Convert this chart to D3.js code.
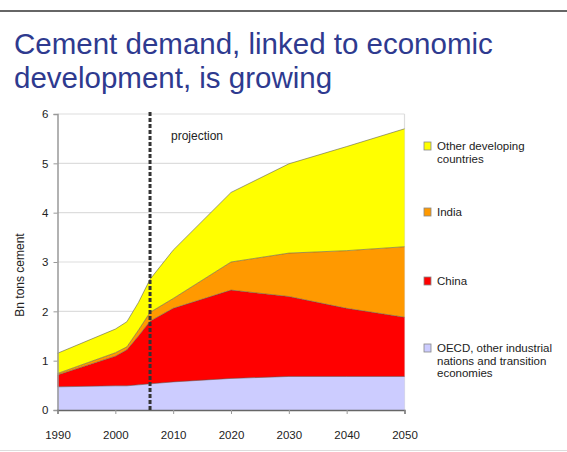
<!DOCTYPE html>
<html>
<head>
<meta charset="utf-8">
<script src="https://cdn.jsdelivr.net/npm/d3@7"></script>
<style>
  body { margin: 0; background: #fff; }
  svg { display: block; font-family: "Liberation Sans", Arial, sans-serif; }
</style>
</head>
<body>
<div id="chart"></div>
<script>
// values (Bn tons cement, per region)
const years = [1990, 2000, 2002, 2004, 2006, 2010, 2020, 2030, 2040, 2050];
const oecd  = [0.47, 0.49, 0.49, 0.51, 0.53, 0.57, 0.64, 0.68, 0.68, 0.68];
const china = [0.24, 0.60, 0.73, 0.99, 1.27, 1.49, 1.79, 1.62, 1.38, 1.20];
const india = [0.03, 0.07, 0.06, 0.12, 0.18, 0.20, 0.57, 0.88, 1.17, 1.43];
const other = [0.41, 0.48, 0.51, 0.56, 0.67, 0.98, 1.41, 1.81, 2.11, 2.39];

const seriesKeys = ['oecd', 'china', 'india', 'other'];
const seriesColors = ['#ccccff', '#ff0000', '#ff9900', '#ffff00'];
const legendLabels = [
    ['OECD, other industrial', 'nations and transition', 'economies'],
    ['China'],
    ['India'],
    ['Other developing', 'countries']
];
const xTicks = [1990, 2000, 2010, 2020, 2030, 2040, 2050];
const yTicks = [0, 1, 2, 3, 4, 5, 6];
const projectionYear = 2006;

const width = 567, height = 452;
const svg = d3.select('#chart').append('svg')
    .attr('width', width)
    .attr('height', height);

// frame lines of the slide
svg.append('line').attr('x1', 0).attr('x2', width).attr('y1', 11).attr('y2', 11)
    .style('stroke', '#333').style('stroke-width', 1.5);
svg.append('line').attr('x1', 0).attr('x2', width).attr('y1', 450.5).attr('y2', 450.5)
    .style('stroke', '#ddd').style('stroke-width', 1);

// title
const title = svg.append('text')
    .style('fill', '#2e3a8f')
    .style('font-size', '29.5px');
title.append('tspan').attr('x', 14).attr('y', 54).text('Cement demand, linked to economic');
title.append('tspan').attr('x', 14).attr('y', 88).text('development, is growing');

const x = d3.scaleLinear().domain([1990, 2050]).range([57.5, 404.5]);
const y = d3.scaleLinear().domain([0, 6]).range([410, 114]);

const table = years.map((yr, i) => ({
    year: yr, oecd: oecd[i], china: china[i], india: india[i], other: other[i]
}));
const stacked = d3.stack().keys(seriesKeys)(table);

// grid lines
svg.append('g')
    .selectAll('line')
    .data(yTicks.filter(d => d > 0))
    .join('line')
    .attr('x1', x(1990)).attr('x2', x(2050))
    .attr('y1', d => y(d)).attr('y2', d => y(d))
    .style('stroke', '#ddd')
    .style('stroke-width', 1.2);
svg.append('line')
    .attr('x1', x(2050)).attr('x2', x(2050))
    .attr('y1', y(6)).attr('y2', y(0))
    .style('stroke', '#ddd').style('stroke-width', 1.2);

const area = d3.area()
    .x(d => x(d.data.year))
    .y0(d => y(d[0]))
    .y1(d => y(d[1]));

svg.append('g')
    .selectAll('path')
    .data(stacked)
    .join('path')
    .attr('d', area)
    .style('fill', (d, i) => seriesColors[i]);

// thin edge along the top of each layer
const topLine = d3.line()
    .x(d => x(d.data.year))
    .y(d => y(d[1]));
svg.append('g')
    .selectAll('path')
    .data(stacked)
    .join('path')
    .attr('d', topLine)
    .style('fill', 'none')
    .style('stroke', '#555')
    .style('stroke-opacity', 0.7)
    .style('stroke-width', 0.8);

// axes
const yAxis = svg.append('g')
    .attr('transform', `translate(${x(1990)},0)`)
    .call(d3.axisLeft(y).tickValues(yTicks).tickSize(4).tickPadding(5).tickFormat(d3.format('d')));
const xAxis = svg.append('g')
    .attr('transform', `translate(0,${y(0)})`)
    .call(d3.axisBottom(x).tickValues(xTicks).tickSize(4).tickPadding(17).tickFormat(d3.format('d')));
yAxis.select('.domain').style('stroke', '#999').style('stroke-width', 1.5);
xAxis.select('.domain').style('stroke', '#666').style('stroke-width', 1.5);
[yAxis, xAxis].forEach(a => {
    a.selectAll('.tick line').style('stroke', '#999');
    a.selectAll('.tick text')
        .style('font-family', '"Liberation Sans", Arial, sans-serif')
        .style('font-size', '11.5px')
        .style('fill', '#222');
});

// projection marker
svg.append('line')
    .attr('x1', x(projectionYear)).attr('x2', x(projectionYear))
    .attr('y1', 112).attr('y2', y(0))
    .style('stroke', '#333')
    .style('stroke-width', 3)
    .style('stroke-dasharray', '4,2');
svg.append('text')
    .attr('x', 171)
    .attr('y', 140)
    .text('projection')
    .style('font-size', '12px')
    .style('fill', '#222');

// y axis title
svg.append('text')
    .attr('transform', 'translate(24,275) rotate(-90)')
    .style('text-anchor', 'middle')
    .style('font-size', '12px')
    .style('fill', '#222')
    .text('Bn tons cement');

// legend, top to bottom
const legendY = [150, 216, 285, 352];
const legend = svg.append('g')
    .selectAll('g')
    .data([3, 2, 1, 0])
    .join('g')
    .attr('transform', (d, i) => `translate(424,${legendY[i]})`);
legend.append('rect')
    .attr('x', 0).attr('y', -8)
    .attr('width', 7).attr('height', 8)
    .style('fill', d => seriesColors[d])
    .style('stroke', '#888')
    .style('stroke-width', 0.8);
legend.append('text')
    .style('font-size', '11.5px')
    .style('fill', '#222')
    .selectAll('tspan')
    .data(d => legendLabels[d])
    .join('tspan')
    .attr('x', 13)
    .attr('y', (d, i) => i * 12.5)
    .text(d => d);
</script>
</body>
</html>
